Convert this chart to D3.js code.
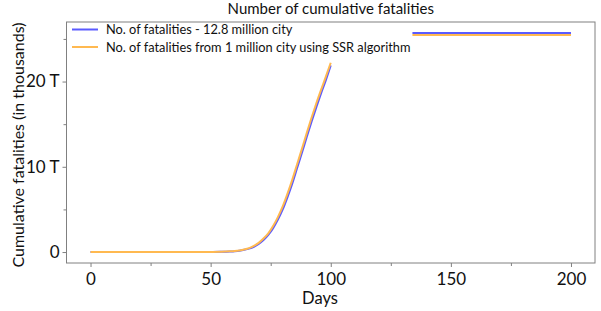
<!DOCTYPE html>
<html><head><meta charset="utf-8">
<script src="https://cdn.jsdelivr.net/npm/d3@7"></script>
<style>body{margin:0;background:#fff}svg{display:block;font-family:Lato,"Noto Sans",sans-serif}</style>
</head><body><svg id="c" width="601" height="311"></svg>
<script>
// Data (cumulative fatalities, thousands)
const riseDays = [0,10,20,30,40,45,50,54,56,58,60,62,64,66,68,70,72,74,76,78,80,82,84,86,88,90,92,94,96,98,100];
const blueRise = [0,0,0,0,0,0.004,0.012,0.025,0.04,0.065,0.1,0.16,0.26,0.4,0.62,0.95,1.4,2.0,2.8,3.8,5.0,6.45,8.05,9.85,11.65,13.5,15.3,17.0,18.65,20.2,21.9];
const orangeRise = [0,0,0,0,0,0.005,0.015,0.03,0.05,0.08,0.12,0.19,0.3,0.46,0.72,1.08,1.58,2.2,3.05,4.1,5.35,6.85,8.5,10.3,12.1,13.95,15.75,17.45,19.05,20.6,22.2];
const plateauDays = [134,150,167,184,200];
const bluePlateau = [25.7,25.7,25.7,25.7,25.7];
const orangePlateau = [25.45,25.45,25.45,25.45,25.45];
const xTicks = [0,50,100,150,200];
const xMinor = [25,75,125,175];
const yTicks = [0,10,20];
const yTickLabels = ["0","10 T","20 T"];
const yMinor = [5,15,25];
const seriesNames = ["No. of fatalities - 12.8 million city","No. of fatalities from 1 million city using SSR algorithm"];
const colors = ["#5a5aff","#ffb950"];

const svg = d3.select("#c");
const L=66.5, R=595, T=22, B=263;
const x = d3.scaleLinear().domain([-10,210]).range([L,R]);
const y = d3.scaleLinear().domain([-1.285,26.985]).range([B,T]);

// frame
svg.append("rect").attr("x",L).attr("y",T).attr("width",R-L).attr("height",B-T)
  .attr("fill","none").attr("stroke","#808080").attr("stroke-width",1);

const fs=17;
const xa = svg.append("g").attr("transform",`translate(0,${B})`)
  .call(d3.axisBottom(x).tickValues(xTicks).tickSize(4).tickPadding(3).tickFormat(d3.format("d")));
const xm = svg.append("g").attr("transform",`translate(0,${B})`)
  .call(d3.axisBottom(x).tickValues(xMinor).tickSize(3).tickFormat(""));
const ya = svg.append("g").attr("transform",`translate(${L},0)`)
  .call(d3.axisLeft(y).tickValues(yTicks).tickSize(4).tickPadding(3).tickFormat((d,i)=>yTickLabels[i]));
const ym = svg.append("g").attr("transform",`translate(${L},0)`)
  .call(d3.axisLeft(y).tickValues(yMinor).tickSize(3).tickFormat(""));
[xa,xm,ya,ym].forEach(g=>{g.select(".domain").remove();g.selectAll("line").attr("stroke","#808080");
  g.selectAll("text").attr("font-size",fs).attr("font-family","Lato").attr("fill","#111");});
xa.selectAll("text").attr("dy","0.9em");

const line = d3.line().x(d=>x(d[0])).y(d=>y(d[1])).curve(d3.curveMonotoneX);
const mk=(ds,vs)=>ds.map((d,i)=>[d,vs[i]]);
svg.append("path").attr("d",line(mk(riseDays,blueRise))).attr("fill","none").attr("stroke",colors[0]).attr("stroke-width",2);
svg.append("path").attr("d",line(mk(plateauDays,bluePlateau))).attr("fill","none").attr("stroke",colors[0]).attr("stroke-width",2);
svg.append("path").attr("d",line(mk(riseDays,orangeRise))).attr("fill","none").attr("stroke",colors[1]).attr("stroke-width",2);
svg.append("path").attr("d",line(mk(plateauDays,orangePlateau))).attr("fill","none").attr("stroke",colors[1]).attr("stroke-width",2);

// legend
const lg = svg.append("g");
seriesNames.forEach((n,i)=>{
  const yy = 29.5 + i*17.5;
  lg.append("line").attr("x1",72).attr("x2",98).attr("y1",yy).attr("y2",yy).attr("stroke",colors[i]).attr("stroke-width",2);
  lg.append("text").attr("x",106).attr("y",yy+4.5).attr("font-size",12.8).attr("fill","#111").text(n);
});

svg.append("text").attr("x",(L+R)/2).attr("y",14).attr("text-anchor","middle").attr("font-size",15).attr("fill","#111").text("Number of cumulative fatalities");
svg.append("text").attr("x",320).attr("y",304).attr("text-anchor","middle").attr("font-size",16.5).attr("fill","#111").text("Days");
svg.append("text").attr("transform",`translate(24,145) rotate(-90)`).attr("text-anchor","middle").attr("font-size",16).attr("fill","#111").text("Cumulative fatalities (in thousands)");
</script></body></html>
